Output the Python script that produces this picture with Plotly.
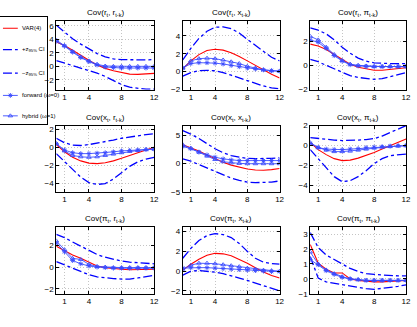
import plotly.graph_objects as go

W, H = 417, 327
lags = list(range(13))

# ---- data ----
var_rr = [3.6, 3.1, 2.4, 1.6, 0.9, 0.2, -0.3, -0.65, -0.95, -1.15, -1.2, -1.15, -1.05]
up_rr = [6.1, 5.1, 4.1, 3.3, 2.6, 1.9, 1.4, 1.1, 1.0, 0.95, 0.95, 0.95, 1.0]
lo_rr = [0.85, 0.5, 0.1, -0.25, -0.6, -1.0, -1.5, -2.1, -2.7, -3.1, -3.3, -3.4, -3.4]
fwd_rr = [3.7, 3.0, 2.1, 1.3, 0.7, 0.2, -0.1, -0.2, -0.25, -0.25, -0.25, -0.25, -0.25]
hyb_rr = [3.9, 3.1, 2.2, 1.4, 0.8, 0.3, 0.05, 0.0, 0.0, 0.0, 0.0, 0.0, 0.0]

var_rx = [0.3, 1.2, 1.9, 2.35, 2.5, 2.4, 2.1, 1.7, 1.2, 0.7, 0.2, -0.3, -0.7]
up_rx = [1.3, 2.6, 3.7, 4.5, 4.95, 5.0, 4.8, 4.3, 3.6, 2.9, 2.2, 1.6, 1.2]
lo_rx = [-0.5, -0.1, 0.1, 0.15, 0.1, -0.1, -0.4, -0.7, -1.0, -1.3, -1.6, -1.8, -1.9]
fwd_rx = [0.4, 0.9, 1.0, 1.0, 0.95, 0.85, 0.7, 0.55, 0.4, 0.3, 0.2, 0.1, 0.05]
hyb_rx = [0.4, 1.2, 1.45, 1.5, 1.45, 1.3, 1.1, 0.9, 0.6, 0.4, 0.2, 0.1, 0.05]

var_rp = [1.75, 1.6, 1.3, 0.9, 0.45, 0.1, -0.15, -0.3, -0.4, -0.4, -0.35, -0.3, -0.2]
up_rp = [3.1, 2.9, 2.6, 2.1, 1.5, 1.0, 0.6, 0.35, 0.2, 0.15, 0.15, 0.15, 0.15]
lo_rp = [0.5, 0.3, 0.0, -0.3, -0.6, -0.85, -1.0, -1.1, -1.15, -1.1, -0.95, -0.8, -0.6]
fwd_rp = [2.1, 1.9, 1.4, 0.8, 0.35, 0.05, -0.05, -0.1, -0.1, -0.1, -0.1, -0.1, -0.1]
hyb_rp = [2.4, 2.1, 1.5, 0.9, 0.4, 0.1, 0.0, -0.05, -0.1, -0.1, -0.1, -0.1, -0.1]

var_xr = [0.3, -0.5, -1.1, -1.5, -1.75, -1.8, -1.7, -1.5, -1.2, -0.9, -0.6, -0.3, 0.0]
up_xr = [1.0, 0.5, 0.25, 0.2, 0.3, 0.45, 0.6, 0.8, 1.0, 1.15, 1.3, 1.4, 1.5]
lo_xr = [-0.7, -1.6, -2.5, -3.3, -3.9, -4.1, -4.0, -3.5, -2.8, -2.1, -1.6, -1.3, -1.1]
fwd_xr = [0.4, -0.3, -0.6, -0.7, -0.7, -0.65, -0.6, -0.5, -0.4, -0.35, -0.3, -0.25, -0.2]
hyb_xr = [0.4, -0.4, -0.9, -1.05, -1.1, -1.05, -0.9, -0.75, -0.6, -0.45, -0.35, -0.25, -0.2]

var_xx = [3.3, 2.8, 2.2, 1.5, 0.8, 0.2, -0.3, -0.7, -1.0, -1.15, -1.2, -1.1, -0.9]
up_xx = [5.8, 5.2, 4.4, 3.5, 2.6, 1.9, 1.4, 1.1, 0.9, 0.85, 0.85, 0.9, 1.0]
lo_xx = [0.8, 0.4, -0.2, -0.8, -1.5, -2.1, -2.6, -3.0, -3.3, -3.4, -3.4, -3.3, -3.1]
fwd_xx = [3.0, 2.6, 2.0, 1.5, 1.1, 0.8, 0.6, 0.5, 0.5, 0.5, 0.5, 0.5, 0.5]
hyb_xx = [3.3, 2.7, 2.0, 1.3, 0.7, 0.3, 0.1, 0.0, -0.05, -0.05, -0.05, -0.05, -0.05]

var_xp = [0.3, -0.4, -0.9, -1.3, -1.5, -1.45, -1.25, -1.0, -0.7, -0.35, 0.0, 0.35, 0.65]
up_xp = [0.8, 0.7, 0.6, 0.55, 0.5, 0.5, 0.55, 0.6, 0.7, 0.95, 1.3, 1.65, 2.0]
lo_xp = [-0.4, -1.3, -2.3, -3.1, -3.6, -3.5, -3.1, -2.5, -1.8, -1.3, -1.0, -0.9, -0.85]
fwd_xp = [0.2, -0.2, -0.35, -0.4, -0.4, -0.35, -0.3, -0.2, -0.15, -0.1, -0.05, 0.0, 0.0]
hyb_xp = [0.3, -0.2, -0.45, -0.6, -0.6, -0.55, -0.45, -0.35, -0.25, -0.15, -0.1, -0.05, 0.0]

var_pr = [1.9, 1.5, 1.1, 0.8, 0.45, 0.1, -0.05, -0.15, -0.2, -0.25, -0.25, -0.2, -0.2]
up_pr = [3.0, 2.7, 2.3, 1.9, 1.5, 1.15, 0.9, 0.7, 0.55, 0.45, 0.4, 0.35, 0.3]
lo_pr = [0.5, 0.2, -0.15, -0.45, -0.7, -0.9, -1.0, -1.05, -1.1, -1.1, -1.0, -0.9, -0.75]
fwd_pr = [2.2, 1.4, 0.6, 0.3, 0.1, 0.0, -0.05, -0.1, -0.1, -0.1, -0.1, -0.1, -0.1]
hyb_pr = [2.4, 1.6, 0.8, 0.7, 0.25, 0.05, 0.0, -0.05, -0.05, -0.05, -0.05, -0.05, -0.05]

var_px = [0.1, 0.7, 1.2, 1.6, 1.8, 1.75, 1.55, 1.2, 0.8, 0.35, -0.1, -0.45, -0.7]
up_px = [1.3, 2.3, 3.1, 3.6, 3.8, 3.7, 3.4, 2.8, 2.0, 1.3, 0.9, 0.75, 0.7]
lo_px = [-0.4, 0.0, 0.05, 0.0, -0.1, -0.25, -0.45, -0.7, -0.95, -1.2, -1.5, -1.75, -2.0]
fwd_px = [0.3, 0.35, 0.35, 0.35, 0.3, 0.25, 0.2, 0.15, 0.1, 0.05, 0.0, -0.05, -0.05]
hyb_px = [0.2, 0.6, 0.8, 0.8, 0.75, 0.65, 0.55, 0.45, 0.3, 0.2, 0.1, 0.05, 0.0]

var_pp = [2.3, 1.05, 0.65, 0.4, 0.4, 0.0, -0.1, -0.15, -0.2, -0.2, -0.15, -0.15, -0.1]
up_pp = [3.1, 2.1, 1.6, 1.3, 1.0, 0.7, 0.5, 0.35, 0.3, 0.25, 0.2, 0.2, 0.2]
lo_pp = [1.5, 0.05, -0.2, -0.3, -0.4, -0.5, -0.6, -0.65, -0.7, -0.65, -0.55, -0.5, -0.4]
fwd_pp = [1.3, 0.95, 0.55, 0.3, 0.1, 0.0, -0.05, -0.1, -0.1, -0.1, -0.1, -0.1, -0.1]
hyb_pp = [1.8, 1.0, 0.6, 0.35, 0.15, 0.0, -0.05, -0.1, -0.1, -0.1, -0.1, -0.1, -0.1]

titles = ["Cov(r<sub>t</sub>, r<sub>t-k</sub>)", "Cov(r<sub>t</sub>, x<sub>t-k</sub>)", "Cov(r<sub>t</sub>, π<sub>t-k</sub>)",
          "Cov(x<sub>t</sub>, r<sub>t-k</sub>)", "Cov(x<sub>t</sub>, x<sub>t-k</sub>)", "Cov(x<sub>t</sub>, π<sub>t-k</sub>)",
          "Cov(π<sub>t</sub>, r<sub>t-k</sub>)", "Cov(π<sub>t</sub>, x<sub>t-k</sub>)", "Cov(π<sub>t</sub>, π<sub>t-k</sub>)"]
yranges = [[-3.45, 6.8], [-2, 5.7], [-2, 3.7],
           [-4.9, 2.4], [-5, 6.7], [-4.6, 2.0],
           [-2.45, 3.7], [-2.3, 4.5], [-1, 3.5]]
ydticks = [2, 2, 2, 2, 5, 2, 2, 2, 1]
xticks = [1, 4, 8, 12]
legend_names = ["VAR(4)", "+z<sub>95%</sub> CI", "−z<sub>95%</sub> CI", "forward (ω=0)", "hybrid (ω=1)"]

panels = [
    (var_rr, up_rr, lo_rr, fwd_rr, hyb_rr), (var_rx, up_rx, lo_rx, fwd_rx, hyb_rx), (var_rp, up_rp, lo_rp, fwd_rp, hyb_rp),
    (var_xr, up_xr, lo_xr, fwd_xr, hyb_xr), (var_xx, up_xx, lo_xx, fwd_xx, hyb_xx), (var_xp, up_xp, lo_xp, fwd_xp, hyb_xp),
    (var_pr, up_pr, lo_pr, fwd_pr, hyb_pr), (var_px, up_px, lo_px, fwd_px, hyb_px), (var_pp, up_pp, lo_pp, fwd_pp, hyb_pp),
]

# ---- layout geometry (pixels) ----
cols_px = [(57, 156), (185, 283), (314, 411)]
rows_px = [(17, 88), (125, 193), (229, 298)]

FONT = "Liberation Sans Narrow, Liberation Sans, Arial"
RED = "#ff0000"
BLUE = "#0000ff"
LBLUE = "#3a4bff"

fig = go.Figure()
layout = dict(width=W, height=H, margin=dict(l=0, r=0, t=0, b=0),
              paper_bgcolor="white", plot_bgcolor="white", showlegend=False,
              font=dict(family=FONT, size=8, color="black"))
annotations = []

line_styles = [
    dict(color=RED, width=1.1),
    dict(color=BLUE, width=1.3, dash="dashdot"),
    dict(color=BLUE, width=1.3, dash="dashdot"),
    dict(color=LBLUE, width=0.9),
    dict(color=LBLUE, width=0.9),
]
marker_syms = [None, None, None, "asterisk-open", "triangle-up-open"]


def mk_marker(sym):
    return dict(symbol=sym, size=4, color=LBLUE, line=dict(width=0.9, color=LBLUE))


for i, series in enumerate(panels):
    r, c = divmod(i, 3)
    n = i + 1
    xa = "x" if n == 1 else f"x{n}"
    ya = "y" if n == 1 else f"y{n}"
    for k, vals in enumerate(series):
        kw = dict(mode="lines", line=line_styles[k])
        if marker_syms[k]:
            kw = dict(mode="lines+markers", line=line_styles[k], marker=mk_marker(marker_syms[k]))
        fig.add_trace(go.Scatter(x=lags, y=vals, xaxis=xa, yaxis=ya, name=legend_names[k],
                                 hoverinfo="skip", **kw))
    x0, x1 = cols_px[c]
    t0, t1 = rows_px[r]
    common = dict(showline=True, linecolor="black", linewidth=1, mirror="ticks",
                  ticks="inside", ticklen=3, tickcolor="black", tickwidth=1,
                  showgrid=True, gridcolor="#c4c4c4", griddash="1px,2px", gridwidth=1,
                  zeroline=False, tickfont=dict(family=FONT, size=8), fixedrange=True)
    layout["xaxis" if n == 1 else f"xaxis{n}"] = dict(
        domain=[x0 / W, x1 / W], range=[0, 12], tickmode="array", tickvals=xticks,
        anchor=ya, **common)
    layout["yaxis" if n == 1 else f"yaxis{n}"] = dict(
        domain=[1 - t1 / H, 1 - t0 / H], range=yranges[i], dtick=ydticks[i], tick0=0,
        anchor=xa, **common)
    annotations.append(dict(text=titles[i], x=(x0 + x1) / 2 / W, y=1 - t0 / H, xref="paper", yref="paper",
                            xanchor="center", yanchor="bottom", yshift=1, showarrow=False,
                            font=dict(family=FONT, size=8)))

# ---- manual legend box (own hidden axis, pixel-like coordinates) ----
lx0, lx1, ly0, ly1 = 0, 48, 13, 123
layout["xaxis10"] = dict(domain=[lx0 / W, lx1 / W], range=[0, lx1 - lx0], showline=True, mirror=True,
                         linecolor="black", linewidth=1, showgrid=False, zeroline=False,
                         showticklabels=False, ticks="", anchor="y10", fixedrange=True)
layout["yaxis10"] = dict(domain=[1 - ly1 / H, 1 - ly0 / H], range=[ly1 - ly0, 0], showline=True, mirror=True,
                         linecolor="black", linewidth=1, showgrid=False, zeroline=False,
                         showticklabels=False, ticks="", anchor="x10", fixedrange=True)
entry_y = [12, 34, 58, 81, 102]
for k in range(5):
    fig.add_trace(go.Scatter(x=[3, 18], y=[entry_y[k]] * 2, xaxis="x10", yaxis="y10",
                             hoverinfo="skip", mode="lines", line=line_styles[k]))
    if marker_syms[k]:
        fig.add_trace(go.Scatter(x=[10.5], y=[entry_y[k]], xaxis="x10", yaxis="y10",
                                 hoverinfo="skip", mode="markers", marker=mk_marker(marker_syms[k])))
    annotations.append(dict(text=legend_names[k], x=20, y=entry_y[k], xref="x10", yref="y10",
                            xanchor="left", yanchor="middle", showarrow=False,
                            font=dict(family=FONT, size=6)))

layout["annotations"] = annotations
fig.update_layout(**layout)
fig.write_html("out.html")
